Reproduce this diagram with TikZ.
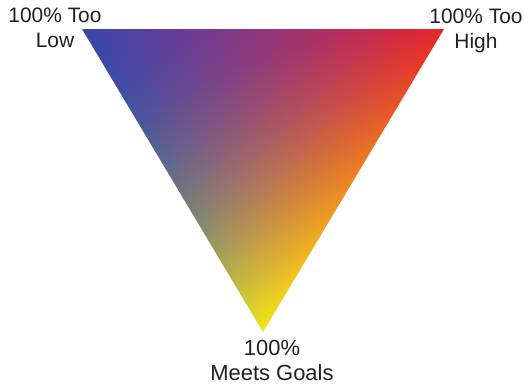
\documentclass[tikz,border=0pt]{standalone}
\usepackage{fontspec}
\setmainfont{Liberation Sans}
% blend: blue (top-left), red (top-right), yellow (bottom)
% the path's bounding box maps to [25bp,75bp]^2 of the shading
\pgfdeclarefunctionalshading{triblend}{\pgfpointorigin}{\pgfpoint{100bp}{100bp}}{}{
  25 sub 50 div exch 25 sub 50 div exch
  dup 0.001 lt {pop 0.001} if dup 1 gt {pop 1} if
  dup 3 1 roll exch 0.5 sub exch div 0.5 add
  dup 0 lt {pop 0} if dup 1 gt {pop 1} if
  exch 1 exch sub
  dup 0.0001 lt {pop 0.0001} if
  1 index 2 exch sub exp
  2 copy exch 0.69 mul 0.22 add exch dup 0.95 mul 3 1 roll 1 exch sub mul add
  3 1 roll
  2 copy exch -0.14 mul 0.28 add exch dup 0.91 mul 3 1 roll 1 exch sub mul add
  3 1 roll
  2 copy exch 1.5 exp -0.5 mul 0.66 add exch dup 0.10 mul 3 1 roll 1 exch sub mul add
  3 1 roll pop pop
}
\begin{document}
\begin{tikzpicture}[x=1bp,y=1bp,
  lbl/.style={font=\fontsize{21}{25}\selectfont, align=center, inner sep=0pt, anchor=base, text=black!88},
  lblb/.style={lbl, font=\fontsize{22}{24.5}\selectfont}]
\useasboundingbox (0,0) rectangle (524,386);
\coordinate (tl) at (82,357);
\coordinate (tr) at (444,357);
\coordinate (bt) at (263,54);
\shade[shading=triblend] (tl) -- (tr) -- (bt) -- cycle;
\node[lbl] (low) at (55,339) {100\% Too\\Low};
\node[lbl] (high) at (476,338) {100\% Too\\High};
\node[lblb] (goals) at (272,6) {100\%\\Meets Goals};
\end{tikzpicture}
\end{document}
